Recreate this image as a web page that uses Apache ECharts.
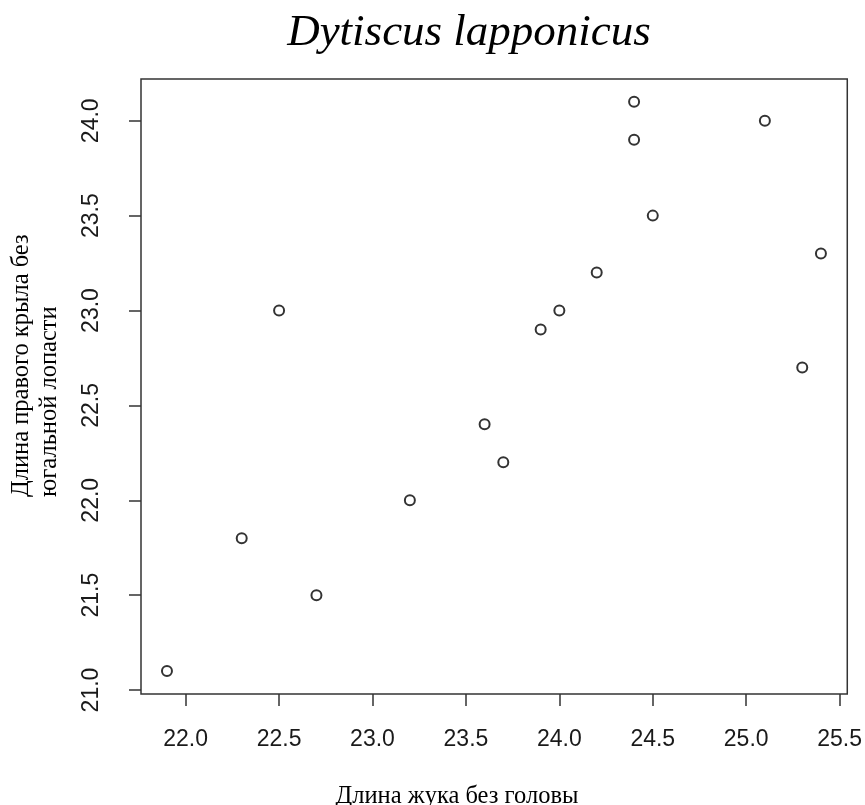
<!DOCTYPE html>
<html>
<head>
<meta charset="utf-8">
<script src="https://cdn.jsdelivr.net/npm/echarts@6/dist/echarts.min.js"></script>
<style>
  html, body { margin: 0; padding: 0; background: #fff; }
  #chart { width: 865px; height: 805px; }
</style>
</head>
<body>
<div id="chart"></div>
<script>
// Body length without head vs. right wing length without the jugal lobe
const bodyLength = [21.9, 22.3, 22.5, 22.7, 23.2, 23.6, 23.7, 23.9, 24.0, 24.2, 24.4, 24.4, 24.5, 25.1, 25.3, 25.4];
const wingLength = [21.1, 21.8, 23.0, 21.5, 22.0, 22.4, 22.2, 22.9, 23.0, 23.2, 24.1, 23.9, 23.5, 24.0, 22.7, 23.3];
const xTicks = [22.0, 22.5, 23.0, 23.5, 24.0, 24.5, 25.0, 25.5];
const yTicks = [21.0, 21.5, 22.0, 22.5, 23.0, 23.5, 24.0];

const titleText = 'Dytiscus lapponicus';
const xTitle = 'Длина жука без головы';
const yTitleLines = ['Длина правого крыла без', 'югальной лопасти'];

const points = bodyLength.map((x, i) => [x, wingLength[i]]);

const tickFont = { fontFamily: 'Liberation Sans', fontSize: 23, color: '#1a1a1a' };
const serif = 'Liberation Serif';
const labelSize = 24.5;

const chart = echarts.init(document.getElementById('chart'), null, { renderer: 'canvas' });
chart.setOption({
  animation: false,
  backgroundColor: '#fff',
  grid: {
    left: 141, right: 17, top: 79, bottom: 111,
    show: true, borderColor: '#333', borderWidth: 1.5, backgroundColor: 'transparent'
  },
  xAxis: {
    type: 'value',
    min: 21.761, max: 25.541,
    splitLine: { show: false },
    axisLine: { show: false },
    axisTick: { show: true, inside: false, length: 12, customValues: xTicks, lineStyle: { color: '#333', width: 1.5 } },
    axisLabel: {
      customValues: xTicks, margin: 34, ...tickFont,
      formatter: v => v.toFixed(1)
    }
  },
  yAxis: {
    type: 'value',
    min: 20.979, max: 24.22,
    splitLine: { show: false },
    axisLine: { show: false },
    axisTick: { show: true, inside: false, length: 12, customValues: yTicks, lineStyle: { color: '#333', width: 1.5 } },
    axisLabel: {
      customValues: yTicks, margin: 38, rotate: 90, ...tickFont,
      formatter: v => v.toFixed(1)
    }
  },
  series: [{
    type: 'scatter',
    data: points,
    symbol: 'emptyCircle',
    symbolSize: 10,
    itemStyle: { color: '#000', borderColor: '#000', borderWidth: 1 }
  }],
  graphic: [
    {
      type: 'text', x: 469, y: 33,
      style: {
        text: titleText, fontFamily: serif, fontStyle: 'italic', fontSize: 45,
        fill: '#000', textAlign: 'center', textVerticalAlign: 'middle'
      }
    },
    {
      type: 'text', x: 457, y: 797,
      style: {
        text: xTitle, fontFamily: serif, fontSize: labelSize,
        fill: '#000', textAlign: 'center', textVerticalAlign: 'middle'
      }
    },
    {
      type: 'text', x: 22, y: 497, rotation: Math.PI / 2,
      style: {
        text: yTitleLines[0], fontFamily: serif, fontSize: labelSize,
        fill: '#000', textAlign: 'left', textVerticalAlign: 'middle'
      }
    },
    {
      type: 'text', x: 50, y: 497, rotation: Math.PI / 2,
      style: {
        text: yTitleLines[1], fontFamily: serif, fontSize: labelSize,
        fill: '#000', textAlign: 'left', textVerticalAlign: 'middle'
      }
    }
  ]
});
</script>
</body>
</html>
